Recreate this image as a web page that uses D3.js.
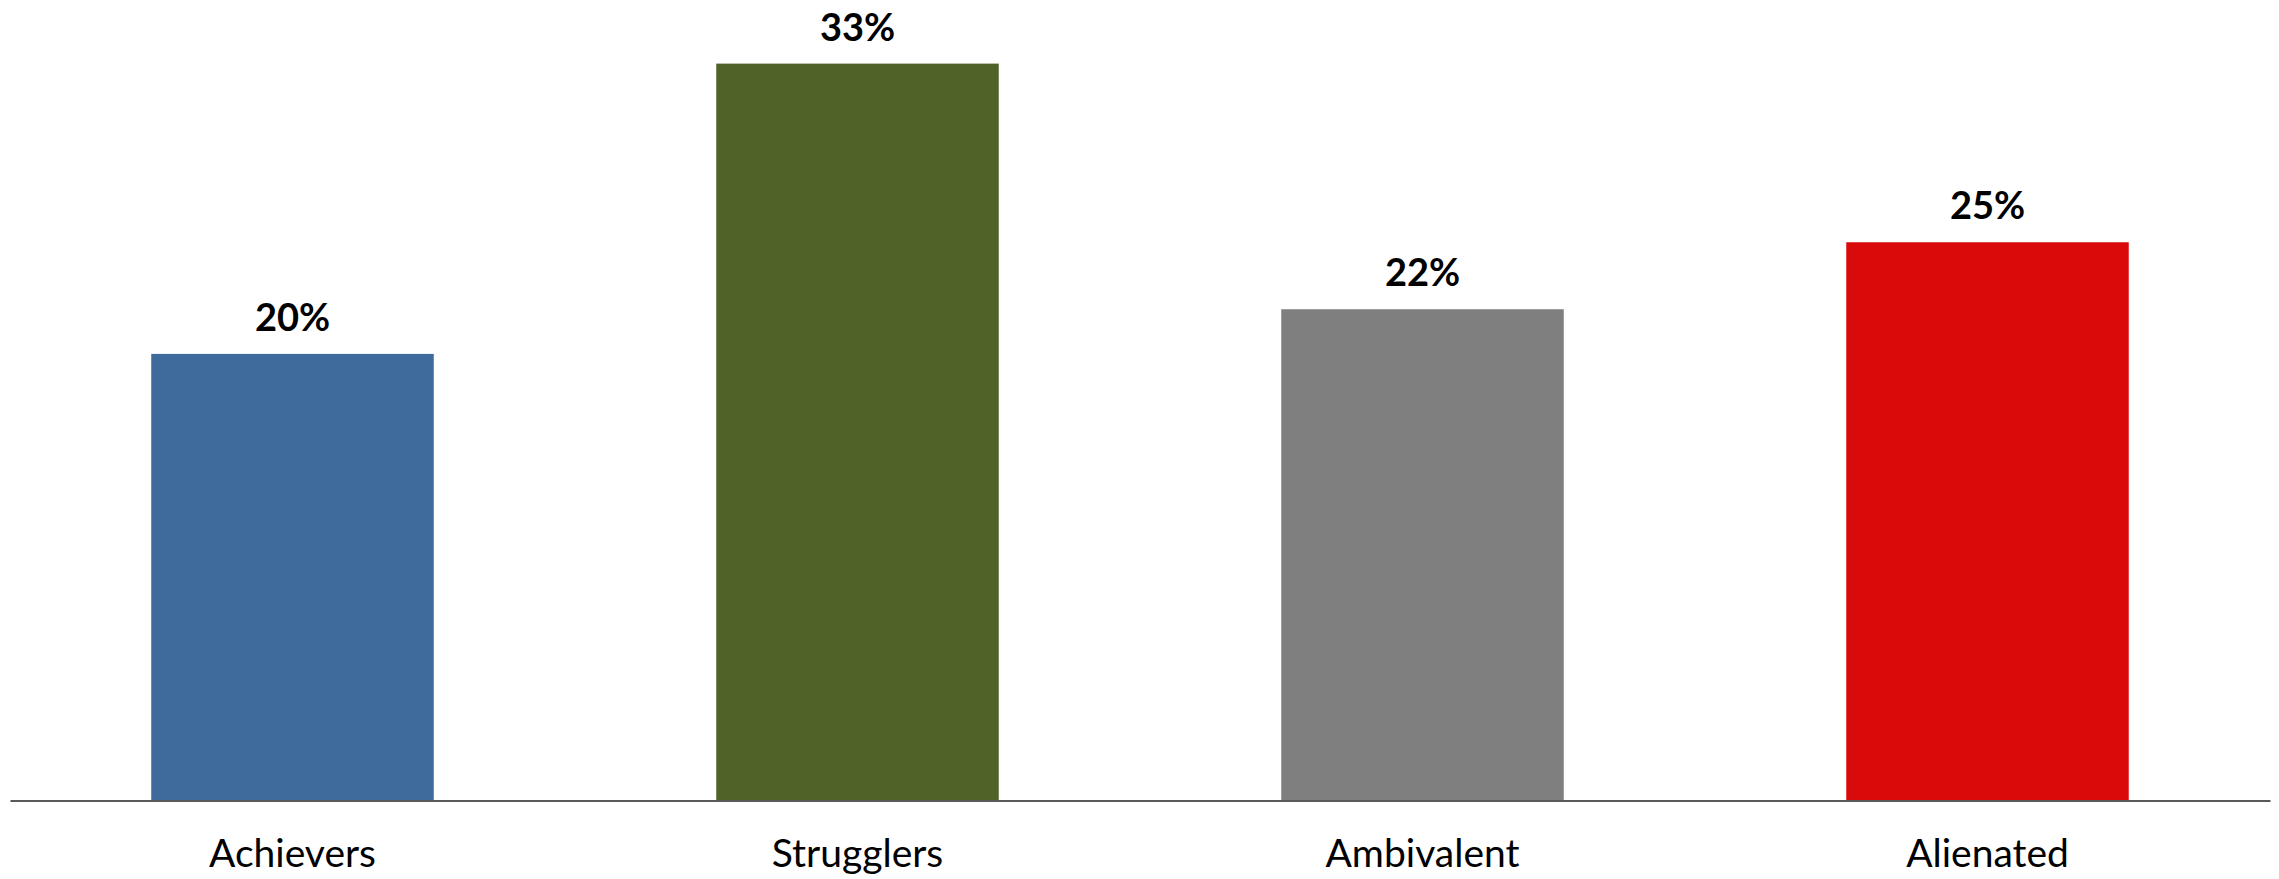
<!DOCTYPE html>
<html>
<head>
<meta charset="utf-8">
<script src="https://cdn.jsdelivr.net/npm/d3@7"></script>
<style>
  html, body { margin: 0; padding: 0; background: #fff; }
  svg { display: block; }
</style>
</head>
<body>
<svg id="chart" width="2279" height="879"></svg>
<script>
// Share of respondents in each segment (%)
const categories = ["Achievers", "Strugglers", "Ambivalent", "Alienated"];
const values = [20, 33, 22, 25];
const barColors = ["#3E6A9C", "#4F6228", "#7F7F7F", "#D90A0A"];

const W = 2279, H = 879;
const baseline = 800.5;
const fontFamily = "Lato, 'Open Sans', sans-serif";

const svg = d3.select("#chart");

const x = d3.scaleBand()
  .domain(categories)
  .range([10, 2270])
  .paddingInner(0.5)
  .paddingOuter(0.25);

// 22.33 px per percentage point
const y = d3.scaleLinear()
  .domain([0, 35.85])
  .range([baseline, baseline - 35.85 * 22.33]);

// Bars
svg.append("g")
  .selectAll("rect")
  .data(categories)
  .join("rect")
  .attr("x", d => x(d))
  .attr("width", x.bandwidth())
  .attr("y", (d, i) => y(values[i]))
  .attr("height", (d, i) => baseline - y(values[i]))
  .attr("fill", (d, i) => barColors[i]);

// Value labels
svg.append("g")
  .selectAll("text")
  .data(categories)
  .join("text")
  .attr("x", d => x(d) + x.bandwidth() / 2)
  .attr("y", (d, i) => y(values[i]) - 23)
  .attr("text-anchor", "middle")
  .attr("font-family", fontFamily)
  .attr("font-weight", "bold")
  .attr("font-size", 38)
  .attr("fill", "#000")
  .text((d, i) => values[i] + "%");

// Category axis
const axis = svg.append("g")
  .attr("transform", `translate(0,${baseline})`)
  .call(d3.axisBottom(x).tickSize(0).tickPadding(0).tickSizeOuter(0));

axis.select(".domain")
  .attr("stroke", "#595959")
  .attr("stroke-width", 2);

axis.selectAll(".tick text")
  .attr("font-family", fontFamily)
  .attr("font-size", 39)
  .attr("fill", "#000")
  .attr("dy", null)
  .attr("y", 66);
</script>
</body>
</html>
